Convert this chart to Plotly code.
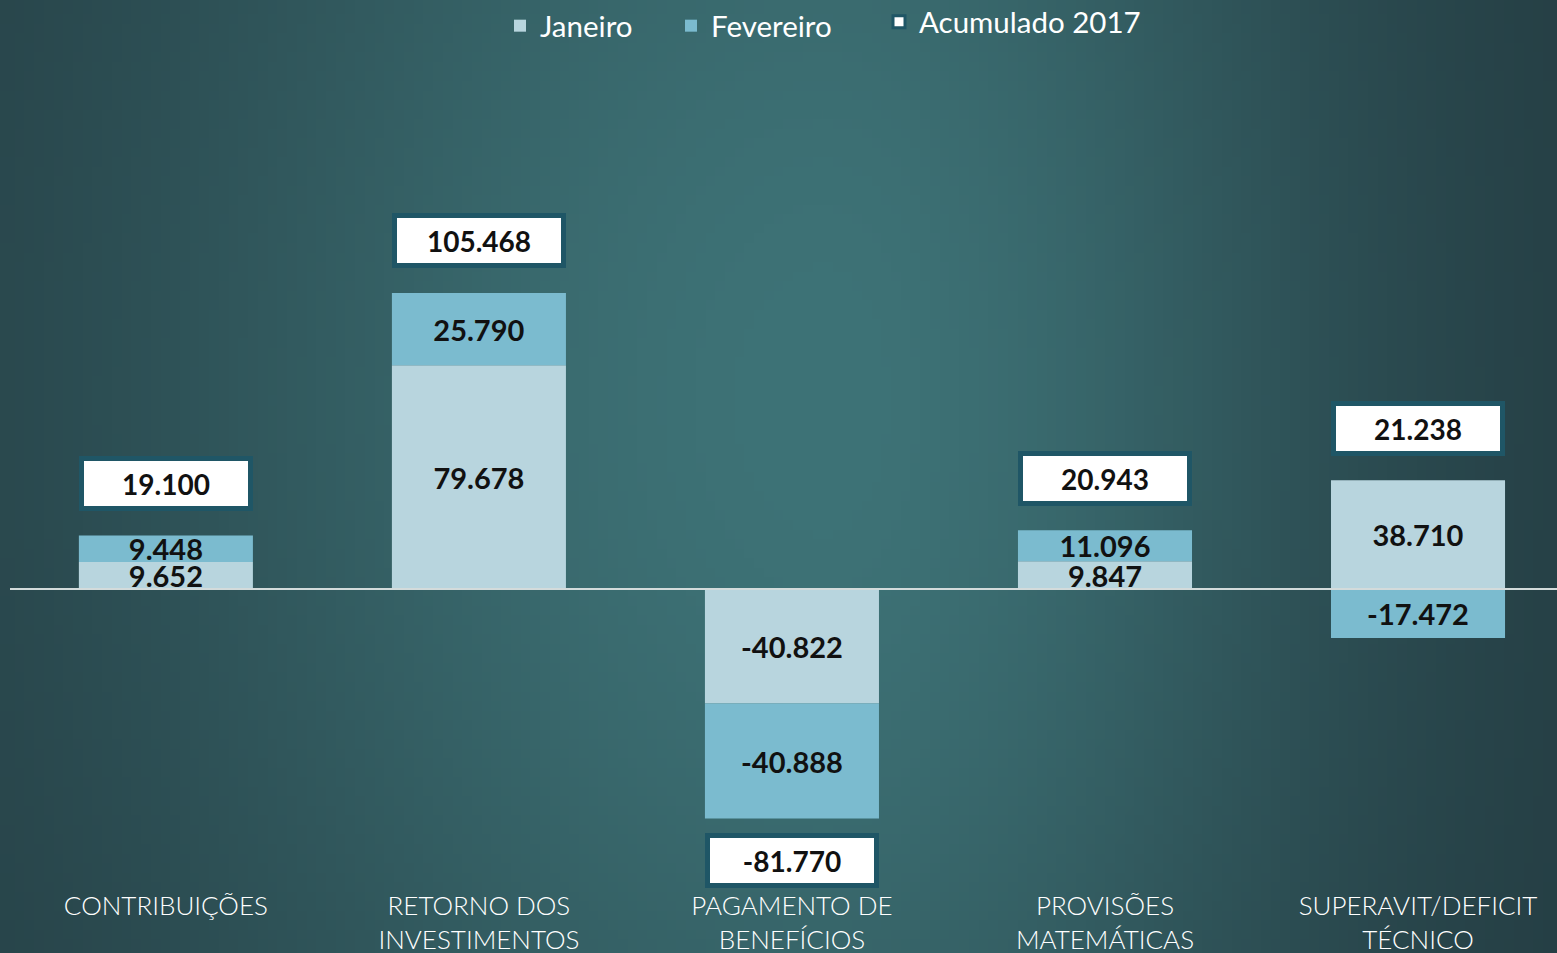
import base64
import struct
import zlib

import numpy as np
import plotly.graph_objects as go

# ---------------- data ----------------
categories = [
    "CONTRIBUIÇÕES",
    "RETORNO DOS<br>INVESTIMENTOS",
    "PAGAMENTO DE<br>BENEFÍCIOS",
    "PROVISÕES<br>MATEMÁTICAS",
    "SUPERAVIT/DEFICIT<br>TÉCNICO",
]
janeiro = [9652, 79678, -40822, 9847, 38710]
fevereiro = [9448, 25790, -40888, 11096, -17472]
acumulado = [19100, 105468, -81770, 20943, 21238]
series_names = ["Janeiro", "Fevereiro", "Acumulado 2017"]


def br(v):
    return f"{v:,}".replace(",", ".")


# ---------------- styling ----------------
W, H = 1557, 953
ML, MR, MT, MB = 10, 0, 0, 65
PW, PH = W - ML - MR, H - MT - MB

C_JAN = "#b8d5de"
C_FEV = "#7bbbcf"
C_BORDER = "#1f5666"
FONT = "Lato"


# background chalkboard gradient (decorative image)
def gradient_png(w=160, h=100):
    xs = (np.arange(w) + 0.5) / w
    ys = (np.arange(h) + 0.5) / h
    X, Y = np.meshgrid(xs, ys)
    cx, cy = 0.53, 0.42
    sx = np.where(X < cx, 0.46, 0.33)
    f = np.exp(-((X - cx) / sx) ** 2 - ((Y - cy) / 1.1) ** 2)
    light = np.array([62, 115, 119], float)
    dark = np.array([35, 58, 64], float)
    img = dark + (light - dark) * f[..., None]
    img = np.clip(img, 0, 255).astype(np.uint8)
    raw = b"".join(b"\x00" + img[r].tobytes() for r in range(h))

    def chunk(t, d):
        c = struct.pack(">I", len(d)) + t + d
        return c + struct.pack(">I", zlib.crc32(t + d) & 0xFFFFFFFF)

    png = b"\x89PNG\r\n\x1a\n"
    png += chunk(b"IHDR", struct.pack(">IIBBBBB", w, h, 8, 2, 0, 0, 0))
    png += chunk(b"IDAT", zlib.compress(raw, 9))
    png += chunk(b"IEND", b"")
    return "data:image/png;base64," + base64.b64encode(png).decode()


fig = go.Figure()

for name, vals, col, lg in [
    (series_names[0], janeiro, C_JAN, "legend"),
    (series_names[1], fevereiro, C_FEV, "legend2"),
]:
    fig.add_trace(
        go.Bar(
            name=name,
            legend=lg,
            x=categories,
            y=vals,
            width=0.556,
            marker=dict(color=col, line=dict(width=0)),
            text=[br(v) for v in vals],
            textposition="inside",
            insidetextanchor="middle",
            textangle=0,
            textfont=dict(family=FONT, size=29, color="#111111", weight="bold"),
            hoverinfo="skip",
        )
    )

# legend entry for the accumulated boxes
fig.add_trace(
    go.Bar(
        name=series_names[2],
        legend="legend3",
        x=categories,
        y=[None] * len(categories),
        marker=dict(color="white", line=dict(color=C_BORDER, width=3)),
        hoverinfo="skip",
    )
)

# accumulated boxes
for cat, j, f_, tot in zip(categories, janeiro, fevereiro, acumulado):
    pos = sum(v for v in (j, f_) if v > 0)
    neg = sum(v for v in (j, f_) if v < 0)
    if tot >= 0:
        yy, shift = pos, 52
    else:
        yy, shift = neg, -42
    fig.add_annotation(
        x=cat,
        y=yy,
        yshift=shift,
        text=br(tot),
        showarrow=False,
        font=dict(family=FONT, size=28, color="#111111", weight="bold"),
        bgcolor="white",
        bordercolor=C_BORDER,
        borderwidth=5,
        borderpad=0,
        width=164,
        height=45,
        align="center",
        valign="middle",
    )

# zero line on top of the bars
fig.add_shape(
    type="line", xref="paper", x0=0, x1=1, yref="y", y0=0, y1=0,
    line=dict(color="#d3dbdb", width=2), layer="above",
)

fig.add_layout_image(
    source=gradient_png(),
    xref="paper", yref="paper",
    x=-ML / PW, y=1 + MT / PH,
    sizex=W / PW, sizey=H / PH,
    xanchor="left", yanchor="top",
    sizing="stretch", layer="below",
)


def legend_at(px_left, dy=0):
    return dict(
        orientation="h",
        x=(px_left - ML) / PW,
        xanchor="left",
        y=1 + dy / PH,
        yanchor="top",
        font=dict(family=FONT, size=29.5, color="white"),
        bgcolor="rgba(0,0,0,0)",
    )


fig.update_layout(
    width=W,
    height=H,
    margin=dict(l=ML, r=MR, t=MT, b=MB, autoexpand=False),
    barmode="relative",
    paper_bgcolor="#30555a",
    plot_bgcolor="rgba(0,0,0,0)",
    showlegend=True,
    legend=legend_at(500),
    legend2=legend_at(671),
    legend3=legend_at(879, dy=4),
    uniformtext=dict(minsize=28, mode="show"),
    xaxis=dict(
        range=[-0.498, 4.444],
        showgrid=False,
        zeroline=False,
        showline=False,
        ticks="",
        automargin=False,
        tickfont=dict(family=FONT, size=26, color="white", weight=300),
    ),
    yaxis=dict(
        range=[-106500, 209800],
        showgrid=False,
        zeroline=False,
        showline=False,
        showticklabels=False,
        ticks="",
        automargin=False,
    ),
    font=dict(family=FONT, color="white"),
)

fig.write_html(
    "out.html",
    config={"displayModeBar": False},
    post_script="document.body.style.margin='0';document.body.style.overflow='hidden';",
)
